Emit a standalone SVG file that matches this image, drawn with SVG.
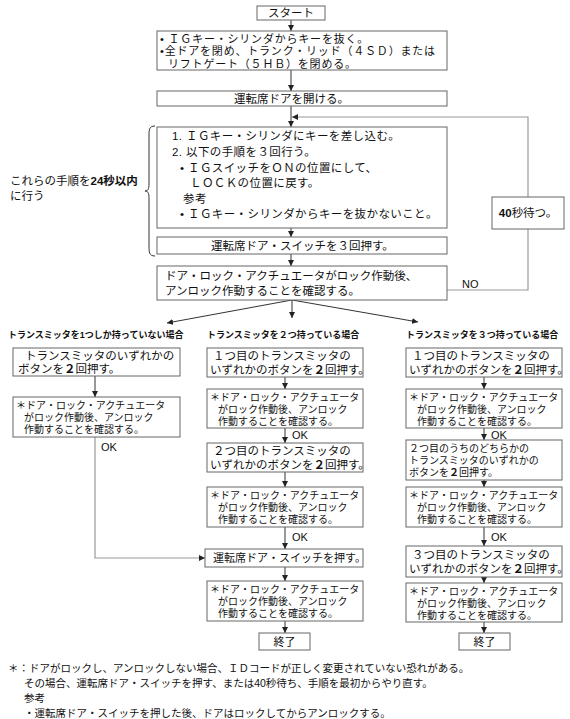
<svg xmlns="http://www.w3.org/2000/svg" width="570" height="719" viewBox="0 0 570 719">
<style>
text{font-family:"Liberation Sans","Noto Sans CJK JP","Noto Sans CJK SC",sans-serif;fill:#111;}
.b{fill:#fff;stroke:#666;stroke-width:1;}
.t{font-size:11.5px;}
.p{font-size:11px;letter-spacing:0.8px;}
.q{font-size:11.5px;letter-spacing:0.4px;}
.s{font-size:10px;}
.c{font-size:11px;}
.h{font-size:9px;font-weight:bold;}
.f{font-size:10.5px;}
.k{font-weight:bold;}
.ln{stroke:#333;stroke-width:1;fill:none;}
.gl{stroke:#999;stroke-width:1.2;fill:none;}
</style>
<defs>
<marker id="ah" viewBox="0 0 8 8" refX="8" refY="4" markerWidth="6" markerHeight="6" markerUnits="userSpaceOnUse" orient="auto">
<path d="M0,0 L8,4 L0,8 z" fill="#222"/>
</marker>
</defs>
<g id="connectors">
<line class="ln" x1="291" y1="20" x2="291" y2="31" marker-end="url(#ah)"/>
<line class="ln" x1="291" y1="70" x2="291" y2="91" marker-end="url(#ah)"/>
<line class="ln" x1="291" y1="106" x2="291" y2="127" marker-end="url(#ah)"/>
<polyline class="gl" points="447,290 528,290 528,117 292,117" marker-end="url(#ah)"/>
<line class="ln" x1="291" y1="228" x2="291" y2="237" marker-end="url(#ah)"/>
<line class="ln" x1="291" y1="254" x2="291" y2="266" marker-end="url(#ah)"/>
<line class="ln" x1="292" y1="300" x2="167" y2="323" marker-end="url(#ah)"/>
<line class="ln" x1="292" y1="300" x2="292" y2="318" marker-end="url(#ah)"/>
<line class="ln" x1="292" y1="300" x2="418" y2="322" marker-end="url(#ah)"/>
<line class="ln" x1="95" y1="376" x2="95" y2="397" marker-end="url(#ah)"/>
<polyline class="gl" points="95,437 95,558 205,558" marker-end="url(#ah)"/>
<line class="ln" x1="285" y1="377" x2="285" y2="389" marker-end="url(#ah)"/>
<line class="ln" x1="285" y1="428" x2="285" y2="443" marker-end="url(#ah)"/>
<line class="ln" x1="285" y1="472" x2="285" y2="487" marker-end="url(#ah)"/>
<line class="ln" x1="285" y1="527" x2="285" y2="549" marker-end="url(#ah)"/>
<line class="ln" x1="285" y1="567" x2="285" y2="581" marker-end="url(#ah)"/>
<line class="ln" x1="285" y1="621" x2="285" y2="633" marker-end="url(#ah)"/>
<line class="ln" x1="484" y1="377" x2="484" y2="389" marker-end="url(#ah)"/>
<line class="ln" x1="484" y1="428" x2="484" y2="440" marker-end="url(#ah)"/>
<line class="ln" x1="484" y1="480" x2="484" y2="487" marker-end="url(#ah)"/>
<line class="ln" x1="484" y1="527" x2="484" y2="546" marker-end="url(#ah)"/>
<line class="ln" x1="484" y1="577" x2="484" y2="583" marker-end="url(#ah)"/>
<line class="ln" x1="484" y1="622" x2="484" y2="633" marker-end="url(#ah)"/>
<text class="c" x="462" y="288">NO</text>
<text class="c" x="101" y="451">OK</text>
<text class="c" x="292" y="439">OK</text>
<text class="c" x="292" y="541">OK</text>
<text class="c" x="491" y="439">OK</text>
<text class="c" x="491" y="541">OK</text>
</g>
<g id="start"><rect class="b" x="257" y="6" width="68" height="14"/><text class="t" x="291" y="17" text-anchor="middle">スタート</text></g>
<g id="prep"><rect class="b" x="157" y="31" width="290" height="39"/>
<text class="p"><tspan x="160" y="42.5">• ＩＧキー・シリンダからキーを抜く。</tspan><tspan x="160" y="55">•全ドアを閉め、トランク・リッド（４ＳＤ）または</tspan><tspan x="168" y="67.5">リフトゲート（５ＨＢ）を閉める。</tspan></text></g>
<g id="open"><rect class="b" x="157" y="91" width="290" height="15"/><text class="t" x="234" y="102.5">運転席ドアを開ける。</text></g>
<g id="steps"><rect class="b" x="157" y="127" width="290" height="101"/>
<text class="q"><tspan x="172" y="140">1. ＩＧキー・シリンダにキーを差し込む。</tspan><tspan x="172" y="156">2. 以下の手順を３回行う。</tspan><tspan x="180" y="172">• ＩＧスイッチをＯＮの位置にして、</tspan><tspan x="190" y="187">ＬＯＣＫの位置に戻す。</tspan><tspan x="183" y="203">参考</tspan><tspan x="180" y="218">• ＩＧキー・シリンダからキーを抜かないこと。</tspan></text></g>
<g id="brace"><path d="M155,126 C149,126 149,130 149,136 L149,184 C149,189 148,191 145,191 C148,191 149,193 149,198 L149,246 C149,252 149,256 155,256" fill="none" stroke="#333" stroke-width="1"/>
<text class="t"><tspan x="10" y="185">これらの手順を</tspan><tspan class="k">24秒以内</tspan><tspan x="10" y="200">に行う</tspan></text></g>
<g id="press3"><rect class="b" x="157" y="237" width="290" height="17"/><text class="t" x="211" y="250">運転席ドア・スイッチを３回押す。</text></g>
<g id="check"><rect class="b" x="157" y="266" width="290" height="34"/>
<text class="t"><tspan x="165" y="280">ドア・ロック・アクチュエータがロック作動後、</tspan><tspan x="165" y="295">アンロック作動することを確認する。</tspan></text></g>
<g id="wait"><rect class="b" x="492" y="197" width="72" height="32"/><text class="t" x="528" y="217" text-anchor="middle"><tspan class="k">40</tspan>秒待つ。</text></g>
<text class="h" x="8" y="338">トランスミッタを1つしか持っていない場合</text>
<text class="h" x="207" y="338">トランスミッタを２つ持っている場合</text>
<text class="h" x="406" y="338">トランスミッタを３つ持っている場合</text>
<g id="L1"><rect class="b" x="13" y="348" width="167" height="28"/>
<text class="t"><tspan x="25" y="360">トランスミッタのいずれかの</tspan><tspan x="18" y="373">ボタンを</tspan><tspan class="k">２</tspan><tspan>回押す。</tspan></text></g>
<g id="L2"><rect class="b" x="13" y="397" width="167" height="40"/>
<text class="s"><tspan x="16" y="409">＊ドア・ロック・アクチュエータ</tspan><tspan x="24" y="421">がロック作動後、アンロック</tspan><tspan x="24" y="433">作動することを確認する。</tspan></text></g>
<g id="M1"><rect class="b" x="207" y="348" width="156" height="29"/>
<text class="t"><tspan x="213" y="360">１つ目のトランスミッタの</tspan><tspan x="210" y="374">いずれかのボタンを</tspan><tspan class="k">２</tspan><tspan>回押す。</tspan></text></g>
<g id="M2"><rect class="b" x="207" y="389" width="156" height="39"/>
<text class="s"><tspan x="210" y="401">＊ドア・ロック・アクチュエータ</tspan><tspan x="218" y="413">がロック作動後、アンロック</tspan><tspan x="218" y="425">作動することを確認する。</tspan></text></g>
<g id="M3"><rect class="b" x="207" y="443" width="156" height="29"/>
<text class="t"><tspan x="213" y="455">２つ目のトランスミッタの</tspan><tspan x="210" y="469">いずれかのボタンを</tspan><tspan class="k">２</tspan><tspan>回押す。</tspan></text></g>
<g id="M4"><rect class="b" x="207" y="487" width="156" height="40"/>
<text class="s"><tspan x="210" y="499">＊ドア・ロック・アクチュエータ</tspan><tspan x="218" y="511">がロック作動後、アンロック</tspan><tspan x="218" y="523">作動することを確認する。</tspan></text></g>
<g id="M5"><rect class="b" x="205" y="549" width="158" height="18"/>
<text class="c" x="213" y="562">運転席ドア・スイッチを押す。</text></g>
<g id="M6"><rect class="b" x="207" y="581" width="156" height="40"/>
<text class="s"><tspan x="210" y="593">＊ドア・ロック・アクチュエータ</tspan><tspan x="218" y="605">がロック作動後、アンロック</tspan><tspan x="218" y="617">作動することを確認する。</tspan></text></g>
<g id="M7"><rect class="b" x="259" y="633" width="51" height="17"/><text class="c" x="284.5" y="646" text-anchor="middle">終了</text></g>
<g id="R1"><rect class="b" x="406" y="348" width="156" height="29"/>
<text class="t"><tspan x="412" y="360">１つ目のトランスミッタの</tspan><tspan x="409" y="374">いずれかのボタンを</tspan><tspan class="k">２</tspan><tspan>回押す。</tspan></text></g>
<g id="R2"><rect class="b" x="406" y="389" width="156" height="39"/>
<text class="s"><tspan x="409" y="401">＊ドア・ロック・アクチュエータ</tspan><tspan x="417" y="413">がロック作動後、アンロック</tspan><tspan x="417" y="425">作動することを確認する。</tspan></text></g>
<g id="R3"><rect class="b" x="406" y="440" width="156" height="40"/>
<text class="s"><tspan x="409" y="452">２つ目のうちのどちらかの</tspan><tspan x="409" y="464">トランスミッタのいずれかの</tspan><tspan x="409" y="476">ボタンを</tspan><tspan class="k">２</tspan><tspan>回押す。</tspan></text></g>
<g id="R4"><rect class="b" x="406" y="487" width="156" height="40"/>
<text class="s"><tspan x="409" y="499">＊ドア・ロック・アクチュエータ</tspan><tspan x="417" y="511">がロック作動後、アンロック</tspan><tspan x="417" y="523">作動することを確認する。</tspan></text></g>
<g id="R5"><rect class="b" x="406" y="546" width="156" height="31"/>
<text class="t"><tspan x="412" y="559">３つ目のトランスミッタの</tspan><tspan x="409" y="573">いずれかのボタンを</tspan><tspan class="k">２</tspan><tspan>回押す。</tspan></text></g>
<g id="R6"><rect class="b" x="406" y="583" width="156" height="39"/>
<text class="s"><tspan x="409" y="595">＊ドア・ロック・アクチュエータ</tspan><tspan x="417" y="607">がロック作動後、アンロック</tspan><tspan x="417" y="619">作動することを確認する。</tspan></text></g>
<g id="R7"><rect class="b" x="459" y="633" width="51" height="17"/><text class="c" x="484.5" y="646" text-anchor="middle">終了</text></g>
<g id="note">
<text class="f"><tspan x="8" y="672">＊：ドアがロックし、アンロックしない場合、ＩＤコードが正しく変更されていない恐れがある。</tspan><tspan x="24" y="687">その場合、運転席ドア・スイッチを押す、または40秒待ち、手順を最初からやり直す。</tspan><tspan x="24" y="702">参考</tspan><tspan x="24" y="717">・運転席ドア・スイッチを押した後、ドアはロックしてからアンロックする。</tspan></text>
</g>
</svg>
